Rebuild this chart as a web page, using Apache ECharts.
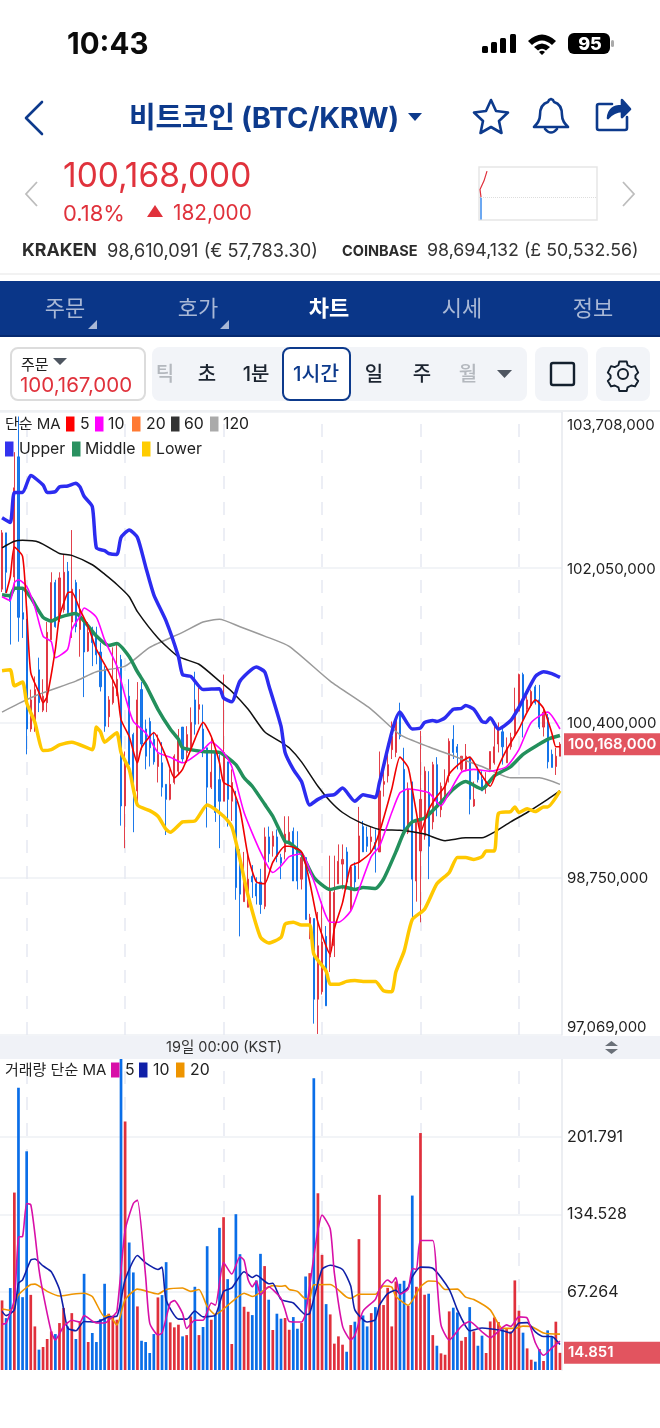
<!DOCTYPE html>
<html lang="ko">
<head>
<meta charset="UTF-8">
<title>BTC/KRW</title>
<script src="https://cdn.jsdelivr.net/npm/echarts@6/dist/echarts.min.js"></script>
<style>
html,body{margin:0;padding:0;background:#fff;width:660px;height:1428px;overflow:hidden;font-family:Inter,"Noto Sans CJK KR",sans-serif}
#main{position:absolute;left:0;top:0;width:660px;height:1428px}
.t{position:absolute;white-space:nowrap;line-height:1;transform:translateY(-50%)}
.c{transform:translate(-50%,-50%)}
.b{position:absolute;box-sizing:border-box}
svg{position:absolute;overflow:visible}
.tab{color:#a9b8d6;font-size:22px}
.tf{font-size:20px;color:#1c2430;font-weight:500}
</style>
</head>
<body>
<div id="main"></div>

<!-- status bar -->
<div class="t" style="left:67px;top:44px;font-size:29.500px;font-weight:700;color:#0b0b0b">10:43</div>
<svg style="left:0;top:0" width="660" height="60">
  <rect x="482" y="46" width="6" height="7" rx="1.5"/><rect x="491" y="42" width="6" height="11" rx="1.5"/>
  <rect x="500" y="38" width="6" height="15" rx="1.5"/><rect x="510" y="34" width="6" height="19" rx="1.5"/>
  <path d="M528 41 Q542 28 556 41 L552 45 Q542 36 532 45Z M534 47 Q542 40 550 47 L546 50.500 Q542 47 538 50.500Z M539 52 L542 55 L545 52 Q542 49.500 539 52Z"/>
  <rect x="568" y="33" width="42" height="21" rx="6"/><rect x="611" y="40" width="3" height="7" rx="1.500" fill="#aaa"/>
</svg>
<div class="t c" style="left:590px;top:44px;font-size:18px;font-weight:800;color:#fff">95</div>

<!-- title row -->
<svg style="left:0;top:90px" width="660" height="50" fill="none" stroke="#0d3a8c" stroke-width="2.600" stroke-linejoin="round" stroke-linecap="round">
  <path d="M42 12 L26 28 L42 44"/>
  <path d="M491 10 L496 21 L508 22.500 L499 31 L501.500 43 L491 37 L480.500 43 L483 31 L474 22.500 L486 21Z"/>
  <path d="M551 9 a4 4 0 0 1 3 3 c7 2 8 8 8 13 c0 6 3 9 6 12 l-34 0 c3 -3 6 -6 6 -12 c0 -5 1 -11 8 -13 a4 4 0 0 1 3 -3Z M545 39 q6 7 12 0"/>
  <path d="M612 14 l-13 0 q-2 0 -2 2 l0 22 q0 2 2 2 l26 0 q2 0 2 -2 l0 -11"/>
  <path d="M608 28 q1 -12 14 -12 l0 -6 l8 9 l-8 8 l0 -6 q-8 0 -14 7Z" fill="#0d3a8c"/>
</svg>
<div class="t" style="left:129px;top:117px;font-size:29px;font-weight:700;color:#0d3a8c;letter-spacing:-.3px">비트코인 (BTC/KRW)</div>
<svg style="left:0;top:0" width="660" height="130"><path d="M408 113 h14 l-7 8Z" fill="#0d3a8c"/></svg>

<!-- price row -->
<svg style="left:0;top:170px" width="660" height="50" fill="none" stroke="#bdbdbd" stroke-width="1.800">
  <path d="M37 12 L26 24 L37 36"/><path d="M623 12 L634 24 L623 36"/>
  <path d="M147 47 L155 35 L163 47Z" fill="#e0323c" stroke="none"/>
</svg>
<div class="t" style="left:63px;top:176px;font-size:33.500px;color:#e0323c">100,168,000</div>
<div class="t" style="left:63px;top:213px;font-size:22px;color:#e0323c">0.18%</div>
<div class="t" style="left:173px;top:213px;font-size:20.800px;color:#e0323c">182,000</div>
<div class="t" style="left:22px;top:250px;font-size:17.800px;font-weight:700;color:#2c2c2c">KRAKEN</div>
<div class="t" style="left:107px;top:250px;font-size:18.200px;color:#333">98,610,091 (€ 57,783.30)</div>
<div class="t" style="left:342px;top:251px;font-size:14.500px;font-weight:700;color:#2c2c2c">COINBASE</div>
<div class="t" style="left:427px;top:250px;font-size:17.800px;color:#333">98,694,132 (£ 50,532.56)</div>
<div class="b" style="left:0;top:273px;width:660px;height:1.500px;background:#f2f2f2"></div>

<!-- nav -->
<div class="b" style="left:0;top:281px;width:660px;height:56px;background:#0a3688;border-bottom:2px solid #062a70"></div>
<div class="t c tab" style="left:65px;top:308px">주문</div>
<div class="t c tab" style="left:198px;top:308px">호가</div>
<div class="t c tab" style="left:329px;top:308px;color:#fff;font-weight:700">차트</div>
<div class="t c tab" style="left:462px;top:308px">시세</div>
<div class="t c tab" style="left:593px;top:308px">정보</div>
<svg style="left:0;top:0" width="660" height="340"><path d="M97 320 v9 h-9Z M229 320 v9 h-9Z" fill="#a9b8d6"/></svg>

<!-- toolbar -->
<div class="b" style="left:10px;top:347px;width:136px;height:54px;border:2px solid #dcdcdc;border-radius:8px"></div>
<div class="t" style="left:21px;top:364px;font-size:15px;color:#222">주문</div>
<div class="t" style="left:20px;top:385px;font-size:20.500px;color:#e0323c">100,167,000</div>
<div class="b" style="left:152px;top:347px;width:375px;height:54px;background:#f2f4f8;border-radius:8px"></div>
<div class="t c tf" style="left:165px;top:374px;color:#b4b8be">틱</div>
<div class="t c tf" style="left:207px;top:374px">초</div>
<div class="t c tf" style="left:256px;top:374px">1분</div>
<div class="b" style="left:282px;top:347px;width:69px;height:54px;background:#fff;border:2px solid #0d3a8c;border-radius:8px"></div>
<div class="t c tf" style="left:316px;top:374px;color:#0d3a8c;font-size:20.500px">1시간</div>
<div class="t c tf" style="left:374px;top:374px">일</div>
<div class="t c tf" style="left:422px;top:374px">주</div>
<div class="t c tf" style="left:468px;top:374px;color:#b4b8be">월</div>
<div class="b" style="left:535px;top:347px;width:53px;height:54px;background:#f2f4f8;border-radius:8px"></div>
<div class="b" style="left:596px;top:347px;width:54px;height:54px;background:#f2f4f8;border-radius:8px"></div>
<svg style="left:0;top:340px" width="660" height="70">
  <path d="M53 18 h14 l-7 7Z M497 30 h15 l-7.500 8Z" fill="#4e5560"/>
  <rect x="551" y="23" width="23" height="22" rx="2" fill="none" stroke="#14202e" stroke-width="2.400"/>
  <circle cx="623" cy="34" r="5" fill="none" stroke="#14202e" stroke-width="2"/>
  <path d="M619 21 h8 l1 4 l4 2 l4 -1 l3.500 7 l-3 3 v3 l3 3 l-3.500 6 l-4 -1 l-4 2 l-1 4 h-8 l-1 -4 l-4 -2 l-4 1 l-3.500 -6 l3 -3 v-3 l-3 -3 l3.500 -7 l4 1 l4 -2Z" transform="translate(623 34) scale(.92) translate(-623 -34.500)" fill="none" stroke="#14202e" stroke-width="2.100" stroke-linejoin="round"/>
</svg>
<div class="b" style="left:0;top:410px;width:660px;height:2px;background:#eef0f3"></div>

<script type="text/javascript">
// prices are in thousand KRW, [open, close, low, high]
var ohlc = [
[101820,102420,101790,102450],[102420,102000,101780,102420],[101760,101690,101230,101780],[101950,102900,101820,103280],
[103230,101520,101260,103660],[101570,101500,101300,101820],[101500,100330,100060,101500],[100330,100640,100300,100750],
[100330,100750,100300,100890],[100960,100610,100510,101090],[100530,100680,100510,100860],[100610,101360,100510,101470],
[101280,101890,101280,102000],[101890,101420,101410,101920],[101530,101940,101470,102000],[101600,102000,101570,102190],
[102010,101570,101550,102110],[101470,101820,101300,102450],[101890,101420,101360,101920],[101390,101600,101100,101820],
[101470,101150,100670,101530],[101160,101360,101150,101470],[101390,101250,101000,101420],[101320,101120,101020,101420],
[101150,100780,100730,101250],[100960,100360,100300,101000],[100460,100640,100350,100680],[100610,100780,100590,101200],
[100700,100860,100680,101250],[101070,99510,99300,101120],[99510,99980,99060,100090],[100680,99950,99920,100860],
[100270,99670,99230,100290],[99670,100640,99550,100830],[100750,100170,100110,100830],[100330,100040,99900,100430],
[100410,100130,99930,100450],[100220,99980,99950,100300],[99930,100060,99760,100270],[99970,99710,99610,100190],
[99740,99580,99200,99740],[99580,99740,99570,99900],[99760,100040,99740,100060],[99880,100240,99850,100330],
[100350,100010,99980,100350],[100080,100270,99970,100360],[100110,100400,100090,100560],[100640,100380,100270,100940],
[100540,100590,100380,100770],[100330,100110,100030,100590],[100130,99710,99280,100130],[99710,99870,99690,100250],
[100090,99440,99340,100090],[99790,99560,99060,100060],[99560,100080,99560,100910],[99980,99580,99290,99980],
[99560,99760,99350,99900],[99560,98640,98510,99670],[98870,98570,98120,99050],[98490,98730,98490,99020],
[98430,98730,98430,99020],[98760,98700,98530,98880],[98680,98550,98460,98750],[98700,98460,98360,98840],
[98440,99180,98410,99280],[99180,99000,98910,99290],[99080,99190,98970,99240],[99180,98970,98910,99260],
[98960,98900,98730,99000],[99020,99210,98940,99400],[99120,99230,99100,99400],[99240,98710,98710,99280],
[99050,98710,98620,99240],[98730,98960,98620,99030],[98960,98300,98300,98960],[98200,98320,98090,98360],
[98310,97450,97190,98310],[97450,98020,97080,98380],[97530,98060,97500,98490],[98120,97380,97380,98230],
[97900,98620,97740,98980],[98020,98590,97900,98980],[98680,98920,98680,99100],[98890,98940,98620,99100],
[99020,98700,98620,99070],[98410,98860,98390,98870],[98870,98700,98620,98910],[98910,99190,98730,99500],
[99290,99020,99020,99350],[99180,99080,99020,99290],[99130,99180,99000,99290],[99120,99050,98800,99260],
[99020,99670,99020,100090],[99740,99770,99610,99970],[99830,99950,99760,100110],[100110,100250,100010,100410],
[100080,100430,100030,100460],[100510,100250,100220,100610],[99900,99230,99230,100130],[99230,99690,99210,99760],
[99710,98730,98300,99770],[98710,99340,98490,99340],[99030,99580,98270,100310],[99190,99880,99150,99930],
[99650,99080,98730,99880],[99340,99950,99260,99980],[99950,99510,99400,100030],[99470,99720,99390,99760],
[99630,99740,99580,99900],[99830,100200,99760,100230],[100220,100080,100010,100370],[100140,100080,99900,100170],
[99900,100040,99880,100040],[99900,100040,99880,100170],[100030,99580,99420,100030],[99510,99580,99500,99770],
[99900,99790,99760,99930],[99790,99670,99670,99880],[99710,99760,99640,99870],[99900,100090,99870,100090],
[99970,100140,99950,100360],[100170,100330,100080,100400],[100300,100140,99950,100330],[99970,100130,99970,100240],
[100140,100240,100110,100290],[100270,100540,100240,100770],[100520,100910,100520,100920],[100910,100430,100240,100930],
[100540,100640,100510,100680],[100580,100730,100560,100750],[100780,100610,100590,100800],[100640,100350,100330,100800],
[100350,100510,100250,100560],[100450,99980,99910,100490],[100060,99920,99920,100110],[99930,100040,99840,100130],
[100040,100168,100040,100190]
];
var volume = [
60.2,44.9,70.9,153.5,244.2,63,189.2,65,37.7,17.6,19.9,26.8,33.4,31.1,40.6,53.6,37.7,49.2,26.8,42,
83.2,24.2,32,24.2,44,74.6,48.7,46.4,43.5,269,215,110.3,84.4,55,25.3,24.2,14.7,31.1,62.8,64.8,
93.3,41.2,36.9,39.2,29.1,30.2,46.4,72,30.2,37.2,107.1,43.5,47.8,123,132.2,78.6,22.5,134.8,100.2,54.7,
50.4,47.5,77.5,100.5,89.9,60.8,34.6,48.7,44.4,45,34.8,45.8,35.7,40.6,80.9,83.8,252.3,152.9,99.6,57,
48.1,22.8,29.1,21.9,15.8,38.9,41.8,113.2,47.2,37.7,49.2,54.4,151.5,56.2,71.1,37.7,76.6,74.6,77.2,55.6,
150.9,72,205,65.1,66,30.2,21,14.4,13.2,50.7,53.9,49.8,25.3,28.5,54.4,33.4,21,29.7,14.7,42,
45.5,41.5,35.4,35.4,33.4,77.5,51.3,32.3,18.7,8.9,7.2,18.1,7.8,34.3,28.5,41.8,14.851
];
// overlays, [candle index, value]
var upper = [[0,102580],[2,102530],[3,102850],[5,102850],[7,103030],[10,102930],[11,102850],[13,102860],[14,102910],[16,102920],[18,102950],[19,102910],[20,102810],[22,102700],[23,102260],[25,102230],[26,102200],[28,102190],[29,102370],[31,102450],[33,102370],[35,102060],[37,101760],[40,101480],[43,101100],[44,100910],[46,100890],[49,100750],[53,100760],[54,100660],[56,100620],[58,100840],[62,100990],[64,100940],[65,100800],[68,100360],[69,100080],[71,99900],[73,99770],[75,99520],[77,99580],[79,99620],[81,99630],[83,99700],[86,99560],[88,99630],[91,99600],[92,99760],[97,100510],[100,100330],[102,100340],[103,100400],[105,100420],[106,100410],[108,100450],[110,100540],[112,100550],[113,100580],[115,100540],[117,100410],[118,100400],[119,100450],[121,100330],[124,100420],[126,100560],[130,100890],[132,100940],[134,100920],[136,100880]];
var middle = [[0,101760],[2,101750],[3,101830],[5,101830],[7,101730],[10,101520],[12,101480],[14,101520],[18,101560],[20,101480],[23,101320],[26,101220],[28,101240],[31,101100],[33,100940],[35,100800],[38,100540],[41,100330],[43,100220],[44,100130],[49,100090],[53,100080],[57,99950],[59,99810],[61,99720],[64,99530],[66,99400],[69,99130],[70,99120],[73,99000],[76,98750],[80,98620],[83,98650],[86,98620],[88,98640],[91,98630],[93,98730],[96,99020],[98,99230],[100,99340],[103,99380],[107,99550],[110,99690],[113,99770],[117,99690],[120,99830],[124,99930],[127,100060],[131,100170],[133,100220],[136,100260]];
var lower = [[0,100950],[2,100960],[3,100790],[5,100830],[6,100610],[8,100400],[10,100100],[12,100110],[14,100160],[17,100190],[22,100110],[23,100350],[24,100300],[25,100190],[27,100260],[28,100290],[29,100080],[31,99900],[33,99520],[36,99460],[38,99400],[40,99260],[41,99230],[44,99340],[47,99350],[50,99520],[54,99400],[56,99290],[58,98940],[60,98550],[63,98110],[65,98050],[68,98110],[69,98250],[71,98270],[73,98240],[75,98240],[76,97930],[79,97750],[80,97610],[82,97610],[84,97640],[86,97650],[88,97640],[91,97640],[93,97540],[95,97530],[96,97740],[98,97960],[100,98300],[103,98410],[106,98680],[109,98800],[111,98960],[113,98960],[115,98940],[117,98970],[118,99030],[120,99030],[121,99430],[124,99450],[125,99500],[126,99440],[128,99480],[130,99450],[132,99500],[133,99500],[136,99670]];
var ma5 = [[1,101780],[2,101950],[3,102270],[5,102170],[6,101600],[7,100930],[9,100720],[10,100610],[11,100680],[13,101180],[14,101530],[16,101780],[17,101790],[19,101600],[21,101420],[23,101180],[26,100940],[28,100750],[29,100430],[31,100250],[33,99970],[34,100130],[37,100290],[40,100030],[42,99810],[44,99900],[47,100220],[49,100400],[51,100250],[53,99970],[54,99760],[56,99710],[58,99470],[60,98970],[62,98700],[64,98680],[66,98910],[69,99080],[70,99080],[73,99020],[75,98700],[77,98270],[80,97930],[81,98200],[83,98480],[85,98870],[87,98910],[90,99020],[92,99230],[95,99690],[97,100030],[99,99920],[100,99690],[101,99440],[102,99230],[104,99470],[106,99610],[108,99720],[109,99850],[112,99980],[114,100030],[116,99900],[119,99720],[121,99930],[123,100110],[126,100330],[128,100510],[130,100640],[132,100550],[134,100290],[135,100140],[136,100140]];
var ma10 = [[0,101740],[2,101700],[3,101890],[4,101920],[6,101850],[8,101630],[10,101320],[12,101260],[13,101090],[16,101180],[17,101390],[19,101530],[20,101620],[23,101520],[25,101280],[28,101000],[30,100680],[32,100410],[35,100290],[38,100080],[41,100030],[44,99970],[49,100110],[51,100190],[54,100080],[56,99930],[59,99440],[63,99020],[66,98800],[68,98870],[70,98970],[73,99000],[76,98710],[80,98270],[82,98270],[85,98390],[87,98620],[90,98970],[92,99080],[95,99440],[97,99650],[99,99690],[104,99650],[107,99510],[109,99650],[112,99870],[115,99900],[119,99880],[123,99930],[126,100110],[129,100400],[133,100510],[136,100330]];
var ma60 = [[0,102260],[3,102330],[5,102340],[9,102320],[14,102200],[17,102180],[22,102080],[25,101980],[28,101870],[31,101740],[33,101580],[38,101300],[43,101100],[48,101020],[53,100840],[56,100730],[60,100540],[64,100300],[68,100190],[70,100130],[73,99980],[77,99720],[80,99560],[83,99440],[87,99340],[92,99260],[97,99250],[103,99210],[108,99140],[113,99170],[117,99170],[120,99230],[124,99340],[128,99440],[133,99580],[136,99670]];
var ma120 = [[0,100510],[4,100600],[9,100700],[18,100840],[23,100940],[30,101000],[36,101200],[44,101360],[49,101470],[53,101500],[58,101420],[64,101320],[70,101210],[80,100840],[90,100540],[97,100270],[104,100140],[117,99930],[124,99810],[131,99810],[136,99740]];
var volMa5 = [[0,39.7],[1,40.6],[3,60.8],[4,115],[5,115.5],[6,144],[7,143],[8,118],[9,87],[10,66.5],[12,33],[13,26],[15,37.7],[17,43],[19,41.5],[20,47],[23,40.6],[25,40.6],[27,46.4],[28,50.7],[30,121],[32,144],[33,147],[35,81],[36,40.6],[38,30.5],[39,32],[41,58],[42,60],[44,49],[45,36],[47,43],[49,43],[51,58],[52,56],[54,93],[56,83],[58,98],[59,95],[60,78],[61,72],[62,77],[63,65],[65,72],[67,66],[68,62],[69,52],[70,42],[73,41.5],[74,49],[76,98],[77,121],[78,134],[80,122],[81,84],[83,38],[85,26],[86,30],[88,51],[91,61],[92,69.7],[94,77.8],[95,75.5],[96,80],[97,65.5],[99,70],[100,87.8],[101,87],[102,112],[105,112],[106,78],[107,39],[109,26],[112,38],[114,42],[117,33],[119,28],[123,39],[124,37.7],[126,46],[128,45],[130,23.6],[132,12.7],[134,19],[136,25]];
var volMa10 = [[0,50.7],[1,47],[3,52],[4,75],[5,78],[7,95],[8,96],[10,90],[12,85],[14,69.7],[15,53],[16,36.3],[18,34],[20,42],[23,41.5],[26,46],[28,46.6],[30,78],[33,99],[35,92.7],[38,87],[39,89],[40,60.5],[43,44],[45,44],[47,51],[49,46],[52,47.5],[54,68],[56,71],[59,85],[61,80],[62,82],[65,74.6],[66,75],[68,61],[71,58],[74,48],[75,49],[78,87],[80,90.6],[83,87],[85,72.6],[86,52],[89,41.5],[91,43.5],[92,56],[94,66],[96,69],[97,66],[99,71.4],[100,80.6],[102,89],[105,88],[109,69.7],[111,52],[113,38],[114,34],[117,36.3],[122,34],[124,32],[126,40.6],[128,41],[130,33],[132,29],[134,29],[136,22]];
var volMa20 = [[0,52.7],[2,51.6],[4,65],[7,74],[8,74.3],[11,68],[14,64],[17,65.5],[20,66.4],[22,63.6],[25,46],[26,47.5],[28,39],[30,60.8],[33,70],[38,65.8],[40,69.7],[44,71],[46,68],[48,69.7],[50,55],[52,48],[56,59],[59,66.4],[61,63.6],[66,73],[68,72.4],[69,73],[70,69.7],[72,68],[74,61.6],[75,62],[76,73.7],[80,74],[84,63],[85,62],[87,65.5],[91,65.5],[93,72.7],[95,71.7],[96,63.6],[99,56],[102,72],[104,77],[106,76.6],[108,69.7],[111,70],[113,63],[115,61],[119,52],[122,36],[125,36],[127,38],[129,37.7],[132,32],[136,31]];
var priceTicks = [97069,98750,100400,102050,103708];
var volumeTicks = [67.264,134.528,201.791];
var dateGridIdx = [6,30,54,78,102,126];
var lastPrice = 100168, lastVolume = 14.851, prevClose = 99986;
var miniUp = [[2,99986],[1,100040],[2,100030],[5,100100],[8,100168]];
var miniDown = [[2,99986],[2,99830]];

var RED = '#e0303c', BLUE = '#0a6ee8';
var FONT = 'Inter, "Noto Sans CJK KR", sans-serif';
var categories = ohlc.map(function (d, i) { return i; });

var myChart = echarts.init(document.getElementById('main'));

function line(name, data, color, width, xy) {
    return {
        type: 'line', name: name, data: data, xAxisIndex: xy, yAxisIndex: xy,
        showSymbol: false, smooth: 0.2, silent: true, z: 4,
        lineStyle: { color: color, width: width }
    };
}
function dateLines(xy) {
    return {
        type: 'line', data: [], xAxisIndex: xy, yAxisIndex: xy, z: 1, silent: true,
        markLine: {
            z: 1, symbol: 'none', silent: true, animation: false, label: { show: false },
            lineStyle: { color: '#e6e9f2', width: 1.5, type: [13, 13] },
            data: dateGridIdx.map(function (i) { return { xAxis: i }; })
        }
    };
}
function lastLabel(value, text) {
    return {
        z: 30, symbol: 'none', silent: true, animation: false,
        lineStyle: { width: 0, color: 'transparent' },
        data: [{ yAxis: value }],
        label: {
            position: 'end', distance: 2, formatter: text, color: '#fff', fontFamily: FONT,
            fontSize: 15, fontWeight: 600, backgroundColor: '#e2545f',
            width: 92, height: 22, lineHeight: 22, padding: [0, 0, 0, 4], align: 'left'
        }
    };
}
function legendRow(items, y, height) {
    var out = [];
    items.forEach(function (it) {
        if (it.color) {
            out.push({ type: 'rect', z: 20, shape: { x: it.x, y: y - height / 2, width: 8.5, height: height }, style: { fill: it.color } });
        }
        out.push({ type: 'text', z: 20, x: it.tx, y: y, style: { text: it.text, fill: '#222', font: (it.size || 15.8) + 'px ' + FONT, textVerticalAlign: 'middle' } });
    });
    return out;
}

var graphics = [
    { type: 'rect', z: 10, shape: { x: 0, y: 1036, width: 660, height: 23 }, style: { fill: '#f0f2f7' } },
    { type: 'text', z: 11, x: 224, y: 1048, style: { text: '19일 00:00 (KST)', fill: '#333', font: '14.5px ' + FONT, textAlign: 'center', textVerticalAlign: 'middle' } },
    { type: 'polygon', z: 11, shape: { points: [[605, 1046], [618, 1046], [611.5, 1041]] }, style: { fill: '#6a7078' } },
    { type: 'polygon', z: 11, shape: { points: [[605, 1049], [618, 1049], [611.5, 1054]] }, style: { fill: '#6a7078' } }
].concat(
    legendRow([
        { text: '단순 MA', tx: 5, size: 15 },
        { text: '5', tx: 80, x: 66, color: '#ff0000' },
        { text: '10', tx: 108, x: 95, color: '#ff00ff' },
        { text: '20', tx: 146, x: 132, color: '#ff7a33' },
        { text: '60', tx: 184, x: 171, color: '#333333' },
        { text: '120', tx: 223, x: 210, color: '#aaaaaa' }
    ], 424, 15),
    legendRow([
        { text: 'Upper', tx: 19, x: 5, color: '#3333ee' },
        { text: 'Middle', tx: 85, x: 72, color: '#2a9160' },
        { text: 'Lower', tx: 156, x: 142, color: '#ffcc00' }
    ], 449, 15),
    legendRow([
        { text: '거래량 단순 MA', tx: 5, size: 15 },
        { text: '5', tx: 125, x: 111, color: '#d810a8' },
        { text: '10', tx: 153, x: 139, color: '#1020a8' },
        { text: '20', tx: 190, x: 176, color: '#ee9400' }
    ], 1070, 15)
);

var option = {
    animation: false,
    graphic: graphics,
    grid: [
        { left: 0, width: 562, top: 412, height: 623 },
        { left: 0, width: 562, top: 1059, height: 311 },
        { left: 479, width: 118, top: 167, height: 53, show: true, borderColor: '#e6e6e6', borderWidth: 1.5 }
    ],
    xAxis: [
        { type: 'category', gridIndex: 0, data: categories, show: false },
        { type: 'category', gridIndex: 1, data: categories, show: false },
        { type: 'value', gridIndex: 2, min: 0, max: 118, show: false }
    ],
    yAxis: [
        {
            type: 'value', gridIndex: 0, position: 'right', min: 97069, max: 103708,
            axisLine: { show: true, lineStyle: { color: '#e6e8ee', width: 1.5 } },
            axisTick: { show: false, customValues: priceTicks },
            splitLine: { lineStyle: { color: '#eef0f5', width: 1.5 } },
            axisLabel: {
                customValues: priceTicks, margin: 5, color: '#222', fontFamily: FONT, fontSize: 15,
                padding: [3, 0, 0, 0],
                verticalAlignMinLabel: 'bottom', verticalAlignMaxLabel: 'top',
                formatter: function (v) {
                    var s = (v * 1000).toLocaleString('en-US');
                    if (v === 103708) return '{top|' + s + '}';
                    if (v === 97069) return '{bot|' + s + '}';
                    return s;
                },
                rich: {
                    top: { padding: [3, 0, 0, 0], color: '#222', fontFamily: FONT, fontSize: 15 },
                    bot: { padding: [0, 0, 0, 0], color: '#222', fontFamily: FONT, fontSize: 15 }
                }
            }
        },
        {
            type: 'value', gridIndex: 1, position: 'right', min: 0, max: 269.055,
            axisLine: { show: true, lineStyle: { color: '#e6e8ee', width: 1.5 } },
            axisTick: { show: false, customValues: volumeTicks },
            splitLine: { lineStyle: { color: '#eef0f5', width: 1.5 } },
            axisLabel: {
                customValues: volumeTicks, margin: 5, color: '#222', fontFamily: FONT, fontSize: 16,
                padding: [3, 0, 0, 0],
                formatter: function (v) { return v.toFixed(3); }
            }
        },
        { type: 'value', gridIndex: 2, min: 99826, max: 100197, show: false }
    ],
    series: [
        dateLines(0),
        dateLines(1),
        {
            type: 'candlestick', data: ohlc, xAxisIndex: 0, yAxisIndex: 0, barWidth: 1.6, z: 3, silent: true,
            itemStyle: { color: RED, color0: BLUE, borderColor: RED, borderColor0: BLUE, borderWidth: 1, opacity: 0.92 },
            markLine: lastLabel(lastPrice, '100,168,000')
        },
        line('MA120', ma120, '#9a9a9a', 1.5, 0),
        line('MA60', ma60, '#111111', 1.5, 0),
        line('Upper', upper, '#2c2cf0', 3.5, 0),
        line('Lower', lower, '#ffc800', 3.5, 0),
        line('Middle', middle, '#23905c', 3.5, 0),
        line('MA10', ma10, '#ff00ff', 1.6, 0),
        line('MA5', ma5, '#f00000', 1.6, 0),
        {
            type: 'bar', data: volume, xAxisIndex: 1, yAxisIndex: 1, barWidth: 2.7, silent: true, z: 3,
            itemStyle: {
                color: function (p) { return ohlc[p.dataIndex][1] >= ohlc[p.dataIndex][0] ? RED : BLUE; }
            },
            markLine: lastLabel(lastVolume, '14.851')
        },
        line('VolMA20', volMa20, '#ee9400', 1.6, 1),
        line('VolMA10', volMa10, '#1020a8', 1.6, 1),
        line('VolMA5', volMa5, '#d810a8', 1.6, 1),
        {
            type: 'line', data: miniUp, xAxisIndex: 2, yAxisIndex: 2, showSymbol: false, silent: true,
            lineStyle: { color: RED, width: 1.2 },
            markLine: {
                symbol: 'none', silent: true, animation: false, label: { show: false },
                lineStyle: { color: '#dddddd', width: 1, type: 'dotted' },
                data: [{ yAxis: prevClose }]
            }
        },
        {
            type: 'line', data: miniDown, xAxisIndex: 2, yAxisIndex: 2, showSymbol: false, silent: true,
            lineStyle: { color: BLUE, width: 1.2 }
        }
    ]
};
myChart.setOption(option);
</script>
</body>
</html>
